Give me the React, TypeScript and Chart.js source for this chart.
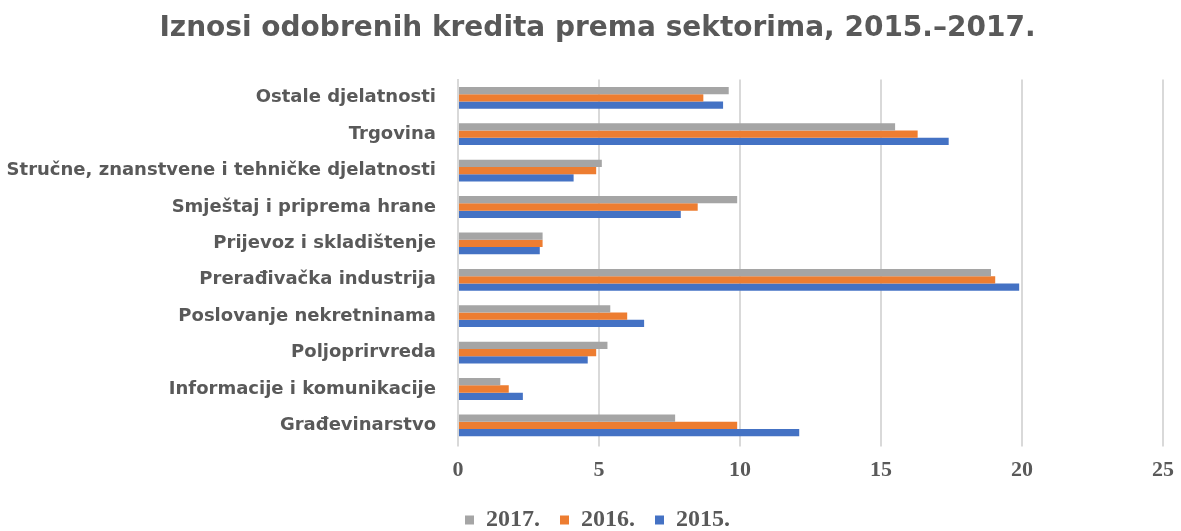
import React, { useEffect, useRef } from "react";
import { Chart, registerables } from "chart.js";

Chart.register(...registerables);

const categories = [
  "Ostale djelatnosti",
  "Trgovina",
  "Stručne, znanstvene i tehničke djelatnosti",
  "Smještaj i priprema hrane",
  "Prijevoz i skladištenje",
  "Prerađivačka industrija",
  "Poslovanje nekretninama",
  "Poljoprirvreda",
  "Informacije i komunikacije",
  "Građevinarstvo",
];

const values2017 = [9.6, 15.5, 5.1, 9.9, 3.0, 18.9, 5.4, 5.3, 1.5, 7.7];
const values2016 = [8.7, 16.3, 4.9, 8.5, 3.0, 19.05, 6.0, 4.9, 1.8, 9.9];
const values2015 = [9.4, 17.4, 4.1, 7.9, 2.9, 19.9, 6.6, 4.6, 2.3, 12.1];

const seriesLabels = ["2017.", "2016.", "2015."];
const seriesColors = ["#A5A5A5", "#ED7D31", "#4472C4"];
const xTicks = [0, 5, 10, 15, 20, 25];

const titleText = "Iznosi odobrenih kredita prema sektorima, 2015.–2017.";
const SANS = "'DejaVu Sans', 'Noto Sans', sans-serif";
const SERIF = "'Liberation Serif', 'DejaVu Serif', serif";
const TEXT_COLOR = "#595959";

// lets the category labels extend into the left layout padding (no clipping)
const unclipLabels = {
  id: "unclipLabels",
  afterLayout(chart: any) {
    const y = chart.scales.y;
    if (y) y.left = 0;
  },
};

export default function App() {
  const ref = useRef<HTMLCanvasElement | null>(null);

  useEffect(() => {
    if (!ref.current) return;
    const data = [values2017, values2016, values2015];
    const chart = new Chart(ref.current, {
      type: "bar",
      data: {
        labels: categories,
        datasets: seriesLabels.map((l, i) => ({
          label: l,
          data: data[i],
          backgroundColor: seriesColors[i],
          borderWidth: 0,
          categoryPercentage: 0.6,
          barPercentage: 1.0,
        })),
      },
      plugins: [unclipLabels],
      options: {
        indexAxis: "y",
        animation: false,
        responsive: false,
        maintainAspectRatio: false,
        layout: { padding: { left: 32, right: 18, top: 0, bottom: -11 } },
        plugins: {
          tooltip: { enabled: false },
          title: {
            display: true,
            text: titleText,
            color: TEXT_COLOR,
            font: { family: SANS, size: 28, weight: "bold" },
            padding: { top: 12, bottom: 34 },
          },
          legend: {
            display: true,
            position: "bottom",
            labels: {
              color: TEXT_COLOR,
              font: { family: SERIF, size: 24, weight: "bold", lineHeight: 1.1 },
              boxWidth: 9,
              boxHeight: 9,
              padding: 20,
            },
          },
        },
        scales: {
          x: {
            min: 0,
            max: 25,
            afterBuildTicks: (scale: any) => {
              scale.ticks = xTicks.map((v) => ({ value: v }));
            },
            afterFit: (scale: any) => {
              scale.paddingRight = 0;
              scale.paddingLeft = 0;
              scale.height -= 7;
            },
            grid: {
              color: "#D9D9D9",
              lineWidth: 2,
              drawTicks: true,
              tickLength: 3,
            },
            border: { display: false },
            ticks: {
              color: TEXT_COLOR,
              font: { family: SERIF, size: 22, weight: "bold" },
              padding: 11,
            },
          },
          y: {
            afterFit: (scale: any) => {
              scale.width = 426;
            },
            grid: { display: false, drawTicks: false },
            border: { display: true, color: "#D9D9D9", width: 2 },
            ticks: {
              color: TEXT_COLOR,
              font: { family: SANS, size: 18, weight: "bold" },
              padding: 22,
            },
          },
        },
      },
    });
    return () => chart.destroy();
  }, []);

  return (
    <div style={{ position: "fixed", left: 0, top: 0, width: 1181, height: 531, background: "#fff" }}>
      <canvas ref={ref} width={1181} height={531} style={{ width: 1181, height: 531 }} />
    </div>
  );
}
